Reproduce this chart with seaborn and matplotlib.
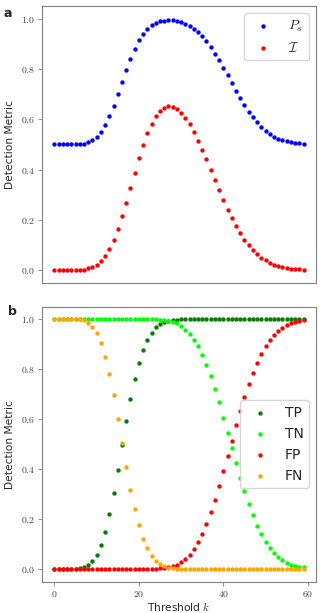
import numpy as np
import pandas as pd
import matplotlib
matplotlib.use('Agg')
import matplotlib.pyplot as plt
from matplotlib.ticker import FuncFormatter
import seaborn as sns

# threshold k = 0 .. 59
threshold = list(range(60))

# panel a
p_s = [0.500, 0.500, 0.500, 0.500, 0.500, 0.500, 0.501, 0.503, 0.508, 0.516,
       0.529, 0.549, 0.576, 0.611, 0.653, 0.700, 0.749, 0.797, 0.841, 0.880,
       0.914, 0.939, 0.959, 0.973, 0.984, 0.989, 0.992, 0.993, 0.993, 0.989,
       0.985, 0.979, 0.971, 0.960, 0.947, 0.930, 0.910, 0.887, 0.861, 0.834,
       0.804, 0.774, 0.744, 0.713, 0.684, 0.656, 0.629, 0.608, 0.588, 0.570,
       0.554, 0.541, 0.531, 0.522, 0.517, 0.513, 0.510, 0.507, 0.505, 0.503]
info = [0.000, 0.000, 0.000, 0.000, 0.000, 0.000, 0.000, 0.002, 0.007, 0.011,
        0.020, 0.035, 0.056, 0.084, 0.118, 0.163, 0.215, 0.268, 0.328, 0.388,
        0.446, 0.499, 0.546, 0.582, 0.612, 0.633, 0.645, 0.651, 0.648, 0.639,
        0.625, 0.603, 0.579, 0.549, 0.515, 0.479, 0.441, 0.398, 0.357, 0.317,
        0.278, 0.239, 0.207, 0.177, 0.147, 0.121, 0.100, 0.081, 0.065, 0.050,
        0.039, 0.029, 0.020, 0.015, 0.011, 0.008, 0.005, 0.004, 0.003, 0.001]

# panel b
tp = [0.000, 0.000, 0.000, 0.000, 0.000, 0.000, 0.003, 0.007, 0.015, 0.031,
      0.055, 0.095, 0.150, 0.221, 0.304, 0.398, 0.495, 0.593, 0.681, 0.759,
      0.825, 0.878, 0.916, 0.945, 0.967, 0.980, 0.989, 0.993, 0.996, 0.998,
      1.000, 1.000, 1.000, 1.000, 1.000, 1.000, 1.000, 1.000, 1.000, 1.000,
      1.000, 1.000, 1.000, 1.000, 1.000, 1.000, 1.000, 1.000, 1.000, 1.000,
      1.000, 1.000, 1.000, 1.000, 1.000, 1.000, 1.000, 1.000, 1.000, 1.000]
tn = [1.000, 1.000, 1.000, 1.000, 1.000, 1.000, 1.000, 1.000, 1.000, 1.000,
      1.000, 1.000, 1.000, 1.000, 1.000, 1.000, 1.000, 1.000, 1.000, 1.000,
      1.000, 1.000, 1.000, 1.000, 0.999, 0.998, 0.996, 0.993, 0.989, 0.983,
      0.972, 0.957, 0.941, 0.918, 0.892, 0.857, 0.818, 0.772, 0.722, 0.667,
      0.606, 0.546, 0.485, 0.424, 0.365, 0.311, 0.260, 0.216, 0.174, 0.139,
      0.108, 0.084, 0.064, 0.048, 0.035, 0.025, 0.017, 0.012, 0.009, 0.008]
fp = [0.000, 0.000, 0.000, 0.000, 0.000, 0.000, 0.000, 0.000, 0.000, 0.000,
      0.000, 0.000, 0.000, 0.000, 0.000, 0.000, 0.000, 0.000, 0.000, 0.000,
      0.000, 0.000, 0.000, 0.000, 0.001, 0.003, 0.004, 0.007, 0.011, 0.017,
      0.028, 0.041, 0.058, 0.080, 0.108, 0.142, 0.182, 0.228, 0.278, 0.333,
      0.392, 0.452, 0.514, 0.576, 0.633, 0.688, 0.739, 0.784, 0.826, 0.861,
      0.892, 0.916, 0.936, 0.952, 0.965, 0.975, 0.983, 0.988, 0.992, 0.995]
fn = [1.000, 1.000, 1.000, 1.000, 1.000, 1.000, 1.000, 0.996, 0.985, 0.969,
      0.944, 0.904, 0.849, 0.779, 0.695, 0.601, 0.503, 0.407, 0.317, 0.240,
      0.175, 0.122, 0.083, 0.054, 0.033, 0.019, 0.011, 0.006, 0.003, 0.001,
      0.000, 0.000, 0.000, 0.000, 0.000, 0.000, 0.000, 0.000, 0.000, 0.000,
      0.000, 0.000, 0.000, 0.000, 0.000, 0.000, 0.000, 0.000, 0.000, 0.000,
      0.000, 0.000, 0.000, 0.000, 0.000, 0.000, 0.000, 0.000, 0.000, 0.000]

sns.set_style("white")
plt.rcParams['font.family'] = ['DejaVu Sans']
plt.rcParams['mathtext.fontset'] = 'cm'

fig = plt.figure(figsize=(3.32, 6.13), dpi=100)
ax_a = fig.add_axes([0.1265, 0.5388, 0.8253, 0.4514])
ax_b = fig.add_axes([0.1265, 0.0511, 0.8253, 0.4486])

df_a = pd.DataFrame({'k': threshold, 'ps': p_s, 'info': info})
df_b = pd.DataFrame({'k': threshold, 'tp': tp, 'tn': tn, 'fp': fp, 'fn': fn})

sns.scatterplot(data=df_a, x='k', y='ps', color='blue', s=10, linewidth=0,
                label=r'$P_s$', ax=ax_a)
sns.scatterplot(data=df_a, x='k', y='info', color='red', s=10, linewidth=0,
                label=r'$\mathcal{I}$', ax=ax_a)

series_b = [('tp', 'TP', 'green'), ('tn', 'TN', 'lime'),
            ('fp', 'FP', 'red'), ('fn', 'FN', 'orange')]
for col, lab, c in series_b:
    sns.scatterplot(data=df_b, x='k', y=col, color=c, s=10, linewidth=0,
                    label=lab, ax=ax_b)

fmt_y = FuncFormatter(lambda v, p: f'${v:.1f}$')
fmt_x = FuncFormatter(lambda v, p: f'${v:.0f}$')
for ax in (ax_a, ax_b):
    ax.set_ylim(-0.05, 1.05)
    ax.set_xticks([0, 20, 40, 60])
    ax.set_yticks([0.0, 0.2, 0.4, 0.6, 0.8, 1.0])
    ax.yaxis.set_major_formatter(fmt_y)
    ax.xaxis.set_major_formatter(fmt_x)
    ax.tick_params(left=True, bottom=True, length=3, width=0.6, color='0.5',
                   labelsize=7, labelcolor='0.25', pad=2)
    for sp in ax.spines.values():
        sp.set_color('0.5')
        sp.set_linewidth(0.8)
    ax.set_ylabel('Detection Metric', fontsize=7.7, color='0.15')

ax_a.set_xlabel('')
ax_a.tick_params(bottom=False, labelbottom=False)
ax_b.set_xlabel('Threshold $k$', fontsize=7.7, color='0.15', labelpad=1)

ax_a.legend(loc='upper right', fontsize=10)
ax_b.legend(loc='center right', fontsize=10)

fig.text(3 / 332, 1 - 17 / 613, 'a', fontsize=9, fontweight='bold', va='baseline')
fig.text(8 / 332, 1 - 315 / 613, 'b', fontsize=9, fontweight='bold', va='baseline')

fig.savefig('out.png', dpi=100)
plt.close(fig)
